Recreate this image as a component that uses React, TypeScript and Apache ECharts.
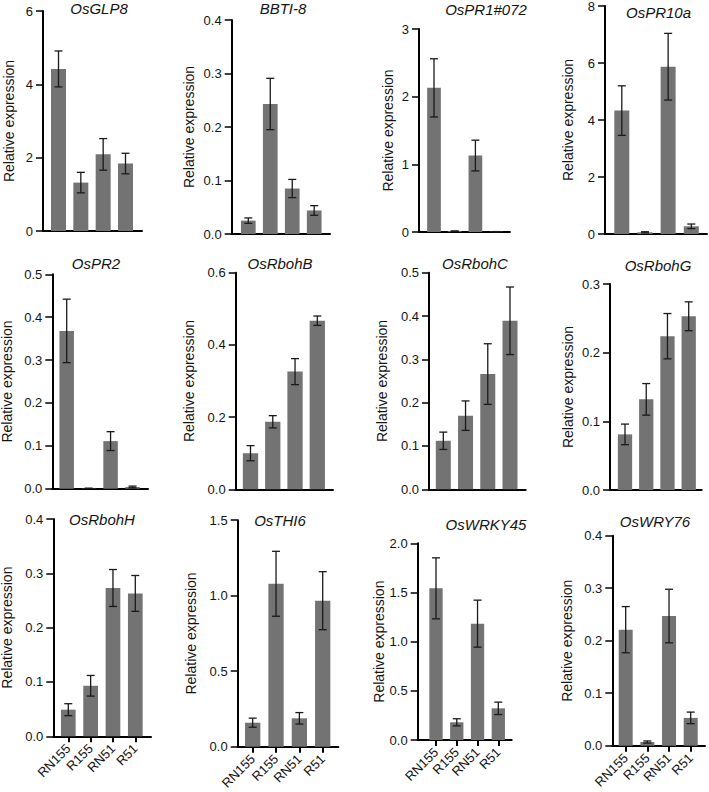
import React, { useEffect, useRef } from 'react';
import * as echarts from 'echarts';

const categories = ['RN155', 'R155', 'RN51', 'R51'];
const geneNames = ['OsGLP8', 'BBTI-8', 'OsPR1#072', 'OsPR10a', 'OsPR2', 'OsRbohB', 'OsRbohC', 'OsRbohG', 'OsRbohH', 'OsTHI6', 'OsWRKY45', 'OsWRY76'];

const osGLP8 = [4.42, 1.32, 2.09, 1.84];
const osGLP8Err = [0.49, 0.28, 0.43, 0.28];
const bbti8 = [0.025, 0.243, 0.085, 0.044];
const bbti8Err = [0.005, 0.048, 0.017, 0.009];
const osPR1 = [2.13, 0.012, 1.13, 0.004];
const osPR1Err = [0.43, 0.004, 0.227, 0.002];
const osPR10a = [4.33, 0.06, 5.87, 0.27];
const osPR10aErr = [0.87, 0.02, 1.17, 0.08];
const osPR2 = [0.368, 0.0008, 0.111, 0.004];
const osPR2Err = [0.074, 0.0003, 0.022, 0.002];
const osRbohB = [0.1, 0.187, 0.326, 0.467];
const osRbohBErr = [0.021, 0.017, 0.036, 0.013];
const osRbohC = [0.112, 0.17, 0.266, 0.389];
const osRbohCErr = [0.02, 0.034, 0.07, 0.078];
const osRbohG = [0.081, 0.132, 0.224, 0.253];
const osRbohGErr = [0.015, 0.023, 0.033, 0.021];
const osRbohH = [0.049, 0.093, 0.273, 0.263];
const osRbohHErr = [0.011, 0.019, 0.034, 0.033];
const osTHI6 = [0.159, 1.079, 0.188, 0.967];
const osTHI6Err = [0.03, 0.215, 0.038, 0.192];
const osWRKY45 = [1.542, 0.18, 1.183, 0.322];
const osWRKY45Err = [0.31, 0.036, 0.239, 0.063];
const osWRY76 = [0.221, 0.007, 0.247, 0.053];
const osWRY76Err = [0.044, 0.002, 0.051, 0.011];

const meansList = [osGLP8, bbti8, osPR1, osPR10a, osPR2, osRbohB, osRbohC, osRbohG, osRbohH, osTHI6, osWRKY45, osWRY76];
const errList = [osGLP8Err, bbti8Err, osPR1Err, osPR10aErr, osPR2Err, osRbohBErr, osRbohCErr, osRbohGErr, osRbohHErr, osTHI6Err, osWRKY45Err, osWRY76Err];

const yMax = [6, 0.4, 3, 8, 0.5, 0.6, 0.5, 0.3, 0.4, 1.5, 2, 0.4];
const yStep = [2, 0.1, 1, 2, 0.1, 0.2, 0.1, 0.1, 0.1, 0.5, 0.5, 0.1];
const yDecimals = [0, 1, 0, 0, 1, 1, 1, 1, 1, 1, 1, 1];

// layout: axisX, xEnd, firstBarCenter, lastBarCenter, top, bottom, barWidth, nameGap, titleX, titleY
const layout = [
  [43, 142, 58.5, 125.5, 11, 231, 15, 27, 99, 8],
  [231.7, 330, 248.3, 314.2, 20, 234, 14.7, 35.7, 283, 8],
  [419, 510, 434, 496.1, 29, 232, 13.7, 24.5, 486, 9],
  [605, 707, 621.8, 691.3, 6, 234, 15, 30, 658.5, 12],
  [52.3, 148, 66.7, 132.5, 274.3, 488.7, 14.5, 38, 96, 263],
  [235.7, 333, 250.5, 317.3, 272.7, 489.3, 15.3, 39.7, 280, 263],
  [429, 525.7, 443.3, 510, 272.7, 489.3, 15, 40, 475, 263],
  [610, 701.7, 625, 688.7, 284, 490, 14.3, 35, 658, 265],
  [53.3, 151, 68.3, 135.3, 519, 736.3, 14.7, 39.6, 102, 519],
  [237.7, 338.3, 252.7, 322.7, 520.2, 746.7, 15.3, 40, 280, 520],
  [417.7, 511.7, 436, 498.3, 543.3, 740, 13.3, 32, 486, 524],
  [612.3, 705, 625.7, 690.7, 535.7, 745.7, 14, 38.6, 655, 521],
];

const FONT = '"Liberation Sans", Arial, sans-serif';
const TEXT = '#141414';
const BAR = '#737373';
const ERR = '#1a1a1a';

function buildOption() {
  const grid: any[] = [];
  const xAxis: any[] = [];
  const yAxis: any[] = [];
  const series: any[] = [];
  const graphic: any[] = [];
  const idx = categories.map((_, i) => i);

  geneNames.forEach((name, i) => {
    const [axisX, xEnd, c0, c3, top, bottom, barW, nameGap, tX, tY] = layout[i];
    const unit = (c3 - c0) / (categories.length - 1);
    const xMin = -(c0 - axisX) / unit;
    const xMax = categories.length - 1 + (xEnd - c3) / unit;
    const bottomRow = i >= 8;

    grid.push({ left: axisX, top, width: xEnd - axisX, height: bottom - top, outerBoundsMode: 'none', containLabel: false });

    xAxis.push({
      type: 'value',
      gridIndex: i,
      min: xMin,
      max: xMax,
      axisLine: { show: true, onZero: false, lineStyle: { color: '#000', width: 2 } },
      axisTick: { show: bottomRow, customValues: idx, length: 6, lineStyle: { color: '#000', width: 2 } },
      axisLabel: {
        show: bottomRow,
        customValues: idx,
        rotate: 45,
        margin: 10,
        fontSize: 13,
        fontFamily: FONT,
        color: TEXT,
        formatter: (v: number) => categories[Math.round(v)] ?? '',
      },
      splitLine: { show: false },
    });

    const dec = yDecimals[i];
    yAxis.push({
      type: 'value',
      gridIndex: i,
      min: 0,
      max: yMax[i],
      interval: yStep[i],
      name: 'Relative expression',
      nameLocation: 'middle',
      nameRotate: 90,
      nameGap,
      nameMoveOverlap: false,
      nameTextStyle: { fontSize: 14, fontFamily: FONT, color: TEXT },
      axisLine: { show: true, onZero: false, lineStyle: { color: '#000', width: 2 } },
      axisTick: { show: true, length: 7, lineStyle: { color: '#000', width: 1.5 } },
      axisLabel: {
        margin: 10,
        fontSize: 13,
        fontFamily: FONT,
        color: TEXT,
        formatter: (v: number) => v.toFixed(dec),
      },
      splitLine: { show: false },
    });

    const means = meansList[i];
    const errs = errList[i];
    series.push({
      type: 'bar',
      xAxisIndex: i,
      yAxisIndex: i,
      barWidth: barW,
      itemStyle: { color: BAR },
      data: means.map((m, k) => [k, m]),
      z: 2,
    });
    series.push({
      type: 'custom',
      xAxisIndex: i,
      yAxisIndex: i,
      z: 3,
      encode: { x: 0, y: 1 },
      data: means.map((m, k) => [k, m, errs[k]]),
      renderItem: (params: any, api: any) => {
        const x = api.value(0);
        const y = api.value(1);
        const e = api.value(2);
        const t = api.coord([x, y + e]);
        const b = api.coord([x, Math.max(0, y - e)]);
        const hw = 4;
        const style = { stroke: ERR, lineWidth: 1.3 };
        return {
          type: 'group',
          children: [
            { type: 'line', shape: { x1: t[0], y1: t[1], x2: b[0], y2: b[1] }, style },
            { type: 'line', shape: { x1: t[0] - hw, y1: t[1], x2: t[0] + hw, y2: t[1] }, style },
            { type: 'line', shape: { x1: b[0] - hw, y1: b[1], x2: b[0] + hw, y2: b[1] }, style },
          ],
        };
      },
    });

    graphic.push({
      type: 'text',
      x: tX,
      y: tY,
      z: 10,
      style: {
        text: name,
        fill: TEXT,
        fontSize: 15,
        fontStyle: 'italic',
        fontFamily: FONT,
        align: 'center',
        verticalAlign: 'middle',
        textAlign: 'center',
        textVerticalAlign: 'middle',
      },
    });
  });

  return {
    animation: false,
    backgroundColor: '#ffffff',
    grid,
    xAxis,
    yAxis,
    series,
    graphic,
  };
}

export default function App() {
  const ref = useRef<HTMLDivElement>(null);
  useEffect(() => {
    document.body.style.margin = '0';
    if (!ref.current) return;
    const chart = echarts.init(ref.current, undefined, { renderer: 'svg' });
    chart.setOption(buildOption() as any);
    return () => chart.dispose();
  }, []);
  return <div ref={ref} style={{ position: 'absolute', left: 0, top: 0, width: 709, height: 792 }} />;
}
